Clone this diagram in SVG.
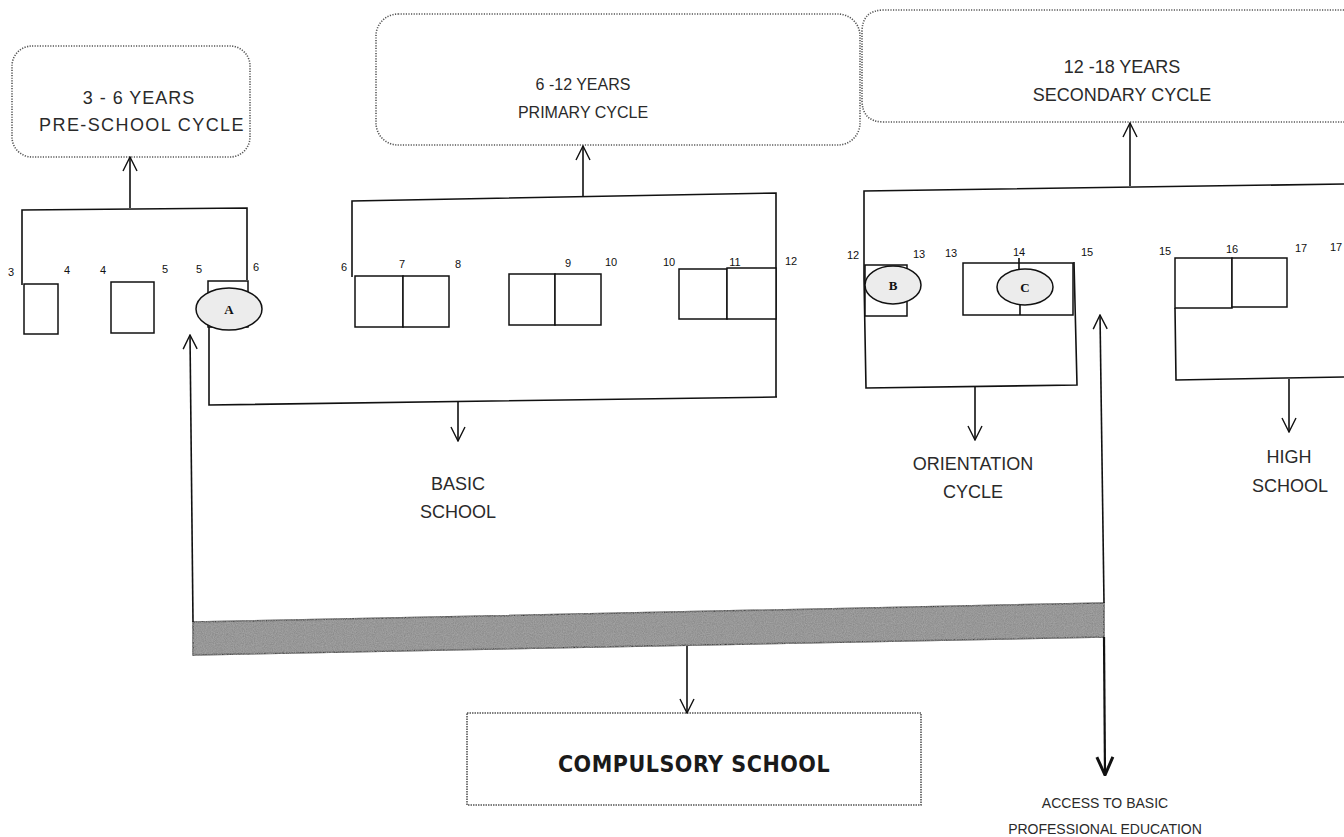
<svg xmlns="http://www.w3.org/2000/svg" width="1344" height="837" viewBox="0 0 1344 837">
<style>
.t{font-family:"Liberation Sans",Arial,sans-serif;fill:#2a2a2a;text-anchor:middle}
.lbl{font-size:18px}
.num{font-size:11px;font-family:"Liberation Sans",Arial,sans-serif;fill:#111;text-anchor:middle}
.ln{fill:none;stroke:#111;stroke-width:1.6}
.box{fill:#fff;stroke:#111;stroke-width:1.5}
.dot{fill:none;stroke:#555;stroke-width:1.6;stroke-dasharray:1.2 1.4}
.ell{fill:#ececec;stroke:#111;stroke-width:1.5}
.let{font-size:13px;font-weight:bold;font-family:"Liberation Serif",serif;fill:#111;text-anchor:middle}
</style>
<defs>
<marker id="v" viewBox="0 0 16 16" refX="15" refY="8" markerWidth="16" markerHeight="16" markerUnits="userSpaceOnUse" orient="auto">
<path d="M1,1 L15,8 L1,15" fill="none" stroke="#111" stroke-width="1.4"/>
</marker>
<marker id="vb" viewBox="0 0 20 20" refX="19" refY="10" markerWidth="20" markerHeight="20" markerUnits="userSpaceOnUse" orient="auto">
<path d="M1,2 L19,10 L1,18" fill="none" stroke="#111" stroke-width="3"/>
</marker>
<filter id="noise"><feTurbulence type="fractalNoise" baseFrequency="0.9" numOctaves="2" result="n"/><feColorMatrix in="n" type="matrix" values="0 0 0 0 0.4 0 0 0 0 0.4 0 0 0 0 0.4 0 0 0 1.2 -0.2" result="g"/><feComposite in="g" in2="SourceGraphic" operator="in" result="c"/><feMerge><feMergeNode in="SourceGraphic"/><feMergeNode in="c"/></feMerge></filter>
</defs>
<rect width="1344" height="837" fill="#fff"/>

<g id="preschool-cycle">
<rect class="dot" x="12" y="46" width="238" height="111" rx="20"/>
<text class="t lbl" x="139" y="104" style="letter-spacing:1px">3 - 6 YEARS</text>
<text class="t lbl" x="142" y="131" style="letter-spacing:1.4px">PRE-SCHOOL CYCLE</text>
</g>
<g id="primary-cycle">
<rect class="dot" x="376" y="14" width="484" height="131" rx="22"/>
<text class="t" x="583" y="90" style="font-size:16px">6 -12 YEARS</text>
<text class="t" x="583" y="118" style="font-size:16px">PRIMARY CYCLE</text>
</g>
<g id="secondary-cycle">
<path class="dot" d="M1344,10 L884,10 Q862,10 862,32 L862,100 Q862,122 884,122 L1344,122"/>
<text class="t lbl" x="1122" y="73">12 -18 YEARS</text>
<text class="t lbl" x="1122" y="101">SECONDARY CYCLE</text>
</g>

<g id="preschool-years">
<path class="ln" d="M22,285 L22,210 L247,208 L247,280"/>
<rect class="box" x="24" y="284" width="34" height="50"/>
<rect class="box" x="111" y="282" width="43" height="51"/>
<text class="num" x="11" y="276">3</text>
<text class="num" x="67" y="274">4</text>
<text class="num" x="103" y="274">4</text>
<text class="num" x="165" y="273">5</text>
<text class="num" x="199" y="273">5</text>
<text class="num" x="256" y="271">6</text>
</g>
<g id="node-a">
<rect class="box" x="208" y="281" width="40" height="46"/>
<ellipse class="ell" cx="229" cy="309" rx="33" ry="21"/>
<text class="let" x="229" y="314">A</text>
</g>

<g id="primary-years">
<path class="ln" d="M352,277 L352,201 L776,193 L776,397"/>
<rect class="box" x="355" y="276" width="48" height="51"/>
<rect class="box" x="403" y="276" width="46" height="51"/>
<rect class="box" x="509" y="274" width="46" height="51"/>
<rect class="box" x="555" y="274" width="46" height="51"/>
<rect class="box" x="679" y="269" width="48" height="50"/>
<rect class="box" x="727" y="268" width="49" height="51"/>
<text class="num" x="344" y="271">6</text>
<text class="num" x="402" y="268">7</text>
<text class="num" x="458" y="268">8</text>
<text class="num" x="568" y="267">9</text>
<text class="num" x="611" y="266">10</text>
<text class="num" x="669" y="266">10</text>
<text class="num" x="735" y="266">11</text>
<text class="num" x="791" y="265">12</text>
</g>
<g id="basic-school">
<path class="ln" d="M209,327 L209,405 L777,397"/>
<text class="t lbl" x="458" y="490">BASIC</text>
<text class="t lbl" x="458" y="518">SCHOOL</text>
</g>

<g id="secondary-years">
<path class="ln" d="M864,279 L864,191 L1344,184"/>
<text class="num" x="853" y="259">12</text>
<text class="num" x="919" y="258">13</text>
<text class="num" x="951" y="257">13</text>
<text class="num" x="1019" y="256">14</text>
<text class="num" x="1087" y="256">15</text>
<text class="num" x="1165" y="255">15</text>
<text class="num" x="1232" y="253">16</text>
<text class="num" x="1301" y="252">17</text>
<text class="num" x="1336" y="251">17</text>
</g>
<g id="orientation-cycle">
<path class="ln" d="M864,279 L866,388 L1077,385 L1074,262"/>
<rect class="box" x="963" y="263" width="110" height="52"/>
<path class="ln" d="M1019,258 L1019,270 M1020,304 L1020,315"/>
<text class="t lbl" x="973" y="470">ORIENTATION</text>
<text class="t lbl" x="973" y="498">CYCLE</text>
</g>
<g id="node-b">
<rect class="box" x="865" y="265" width="42" height="51"/>
<ellipse class="ell" cx="893" cy="285" rx="28" ry="19"/>
<text class="let" x="893" y="290">B</text>
</g>
<g id="node-c">
<ellipse class="ell" cx="1025" cy="287" rx="28" ry="18"/>
<text class="let" x="1025" y="292">C</text>
</g>
<g id="high-school">
<path class="ln" d="M1175,308 L1176,380 L1344,377"/>
<rect class="box" x="1175" y="258" width="57" height="50"/>
<rect class="box" x="1232" y="258" width="55" height="49"/>
<text class="t lbl" x="1289" y="463">HIGH</text>
<text class="t lbl" x="1290" y="492">SCHOOL</text>
</g>

<g id="compulsory-bar">
<polygon points="193,622 1104,603 1104,637 193,655" fill="#8a8a8a" stroke="#333" stroke-width="1.5" filter="url(#noise)"/>
</g>
<g id="compulsory-school">
<rect x="467" y="713" width="454" height="92" fill="none" stroke="#555" stroke-width="1.6" stroke-dasharray="1.5 1"/>
<text class="t" x="694" y="772" style="font-size:23px;font-weight:bold;letter-spacing:0.5px;font-family:'DejaVu Sans Condensed','Liberation Sans',sans-serif;fill:#1a1a1a">COMPULSORY SCHOOL</text>
</g>
<g id="access">
<text class="t" x="1105" y="808" style="font-size:14px">ACCESS TO BASIC</text>
<text class="t" x="1105" y="834" style="font-size:14px">PROFESSIONAL EDUCATION</text>
</g>

<g id="connectors">
<line class="ln" x1="130" y1="208" x2="130" y2="157" marker-end="url(#v)"/>
<line class="ln" x1="583" y1="197" x2="583" y2="146" marker-end="url(#v)"/>
<line class="ln" x1="1130" y1="186" x2="1130" y2="123" marker-end="url(#v)"/>
<line class="ln" x1="458" y1="401" x2="458" y2="441" marker-end="url(#v)"/>
<line class="ln" x1="975" y1="387" x2="975" y2="440" marker-end="url(#v)"/>
<line class="ln" x1="1289" y1="379" x2="1289" y2="432" marker-end="url(#v)"/>
<line class="ln" x1="193" y1="622" x2="190" y2="335" marker-end="url(#v)"/>
<line class="ln" x1="1104" y1="603" x2="1100" y2="315" marker-end="url(#v)"/>
<line class="ln" x1="687" y1="646" x2="687" y2="713" marker-end="url(#v)"/>
<line x1="1104" y1="637" x2="1105" y2="775" stroke="#111" stroke-width="2.2" marker-end="url(#vb)"/>
</g>
</svg>
